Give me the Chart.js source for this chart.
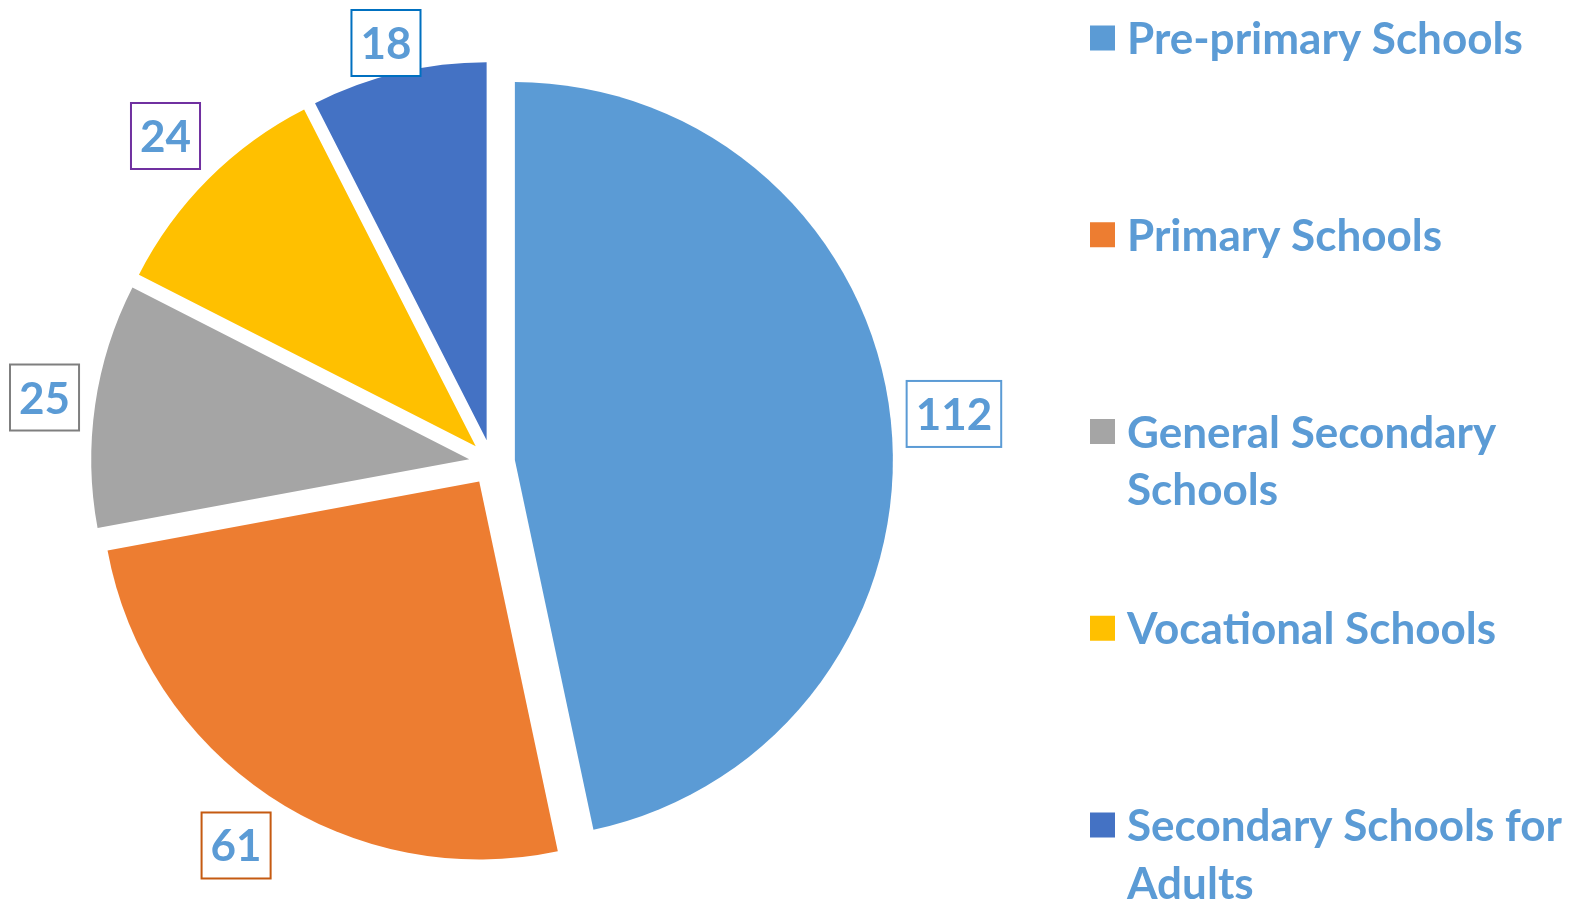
<!DOCTYPE html>
<html><head><meta charset="utf-8">
<script src="https://cdn.jsdelivr.net/npm/chart.js@4.4.1/dist/chart.umd.min.js"></script>
<style>html,body{margin:0;padding:0;background:#fff;} #wrap{width:1571px;height:903px;position:relative;}</style>
</head><body><div id="wrap"><canvas id="c"></canvas></div>
<script>
const categories = ['Pre-primary Schools', 'Primary Schools', 'General Secondary Schools', 'Vocational Schools', 'Secondary Schools for Adults'];
const schoolCounts = [112, 61, 25, 24, 18];
const sliceColors = ['#5B9BD5', '#ED7D31', '#A5A5A5', '#FFC000', '#4472C4'];
const labelBorderColors = ['#5B9BD5', '#C55A11', '#7F7F7F', '#7030A0', '#0070C0'];

const TEXT_COLOR = '#5B9BD5';
const FONT_FAMILY = 'Lato, "Open Sans", sans-serif';
const EXPLODE = 23;
const RADIUS = 378;

const explodePlugin = {
  id: 'explode',
  beforeDatasetDraw(chart, args) {
    const meta = chart.getDatasetMeta(args.index);
    meta.data.forEach(arc => {
      const mid = (arc.startAngle + arc.endAngle) / 2;
      arc._ox = arc.x; arc._oy = arc.y;
      arc.x += Math.cos(mid) * EXPLODE;
      arc.y += Math.sin(mid) * EXPLODE;
    });
  },
  afterDatasetDraw(chart, args) {
    const meta = chart.getDatasetMeta(args.index);
    meta.data.forEach(arc => { arc.x = arc._ox; arc.y = arc._oy; });
  }
};

const decorPlugin = {
  id: 'decor',
  afterDraw(chart) {
    const ctx = chart.ctx;
    const W = chart.width, H = chart.height;
    // data labels
    const meta = chart.getDatasetMeta(0);
    ctx.save();
    const lblFont = 44;
    ctx.font = `bold ${lblFont}px ${FONT_FAMILY}`;
    meta.data.forEach((arc, i) => {
      const mid = (arc.startAngle + arc.endAngle) / 2;
      const dx = Math.cos(mid), dy = Math.sin(mid);
      const cx = arc.x + dx * EXPLODE, cy = arc.y + dy * EXPLODE;
      const ex = cx + dx * arc.outerRadius, ey = cy + dy * arc.outerRadius;
      const txt = String(schoolCounts[i]);
      const m = ctx.measureText(txt);
      const w = m.width + 18, h = 66;
      const half = Math.abs(dx) * w / 2 + Math.abs(dy) * h / 2;
      let lx = ex + dx * (13 + half), ly = ey + dy * (13 + half);
      lx = Math.min(Math.max(lx, 10 + w / 2), W - 10 - w / 2);
      ly = Math.min(Math.max(ly, 10 + h / 2), H - 10 - h / 2);
      ctx.lineWidth = 2;
      ctx.strokeStyle = labelBorderColors[i];
      ctx.fillStyle = '#fff';
      ctx.fillRect(lx - w / 2, ly - h / 2, w, h);
      ctx.strokeRect(lx - w / 2, ly - h / 2, w, h);
      ctx.fillStyle = TEXT_COLOR;
      ctx.textAlign = 'center';
      ctx.textBaseline = 'alphabetic';
      const asc = m.actualBoundingBoxAscent || lblFont * 0.72;
      ctx.fillText(txt, lx, ly + asc / 2);
    });
    ctx.restore();

    // legend
    ctx.save();
    let fs = 42;
    ctx.font = `bold ${fs}px ${FONT_FAMILY}`;
    fs = fs * 396 / ctx.measureText(categories[0]).width;
    ctx.font = `bold ${fs}px ${FONT_FAMILY}`;
    ctx.textAlign = 'left';
    ctx.textBaseline = 'alphabetic';
    const capH = ctx.measureText('P').actualBoundingBoxAscent || fs * 0.72;
    const textX = 1127, maxW = W - textX - 4;
    categories.forEach((name, i) => {
      const base = 54 + i * 196.75;
      ctx.fillStyle = sliceColors[i];
      ctx.fillRect(1090, base - capH / 2 - 12.5, 25, 25);
      const words = name.split(' ');
      const lines = [];
      let cur = '';
      words.forEach(wd => {
        const test = cur ? cur + ' ' + wd : wd;
        if (ctx.measureText(test).width > maxW && cur) { lines.push(cur); cur = wd; }
        else cur = test;
      });
      if (cur) lines.push(cur);
      ctx.fillStyle = TEXT_COLOR;
      lines.forEach((ln, j) => ctx.fillText(ln, textX, base + j * 57.5));
    });
    ctx.restore();
  }
};

new Chart(document.getElementById('c'), {
  type: 'pie',
  data: {
    labels: categories,
    datasets: [{
      data: schoolCounts,
      backgroundColor: sliceColors,
      borderWidth: 0,
      radius: RADIUS
    }]
  },
  options: {
    responsive: true,
    maintainAspectRatio: false,
    animation: false,
    radius: RADIUS,
    layout: { padding: { left: 0, right: 587, top: 22, bottom: 0 } },
    plugins: { legend: { display: false }, tooltip: { enabled: false } }
  },
  plugins: [explodePlugin, decorPlugin]
});
</script>
</body></html>
